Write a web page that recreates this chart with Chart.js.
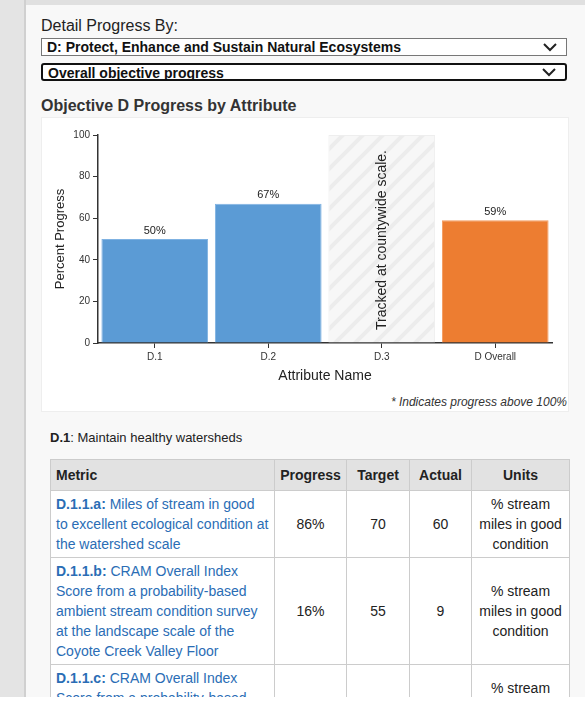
<!DOCTYPE html>
<html><head><meta charset="utf-8">
<script src="https://cdn.jsdelivr.net/npm/chart.js@4"></script>
<style>
body{margin:0;width:585px;height:726px;background:#f5f5f5;font-family:Arial,"Liberation Sans",sans-serif;position:relative;overflow:hidden;color:#222}
#strip{position:absolute;left:0;top:0;width:24px;height:700px;background:#e4e4e4;border-right:2px solid #d0d0d0}
#topbar{position:absolute;left:26px;top:0;width:559px;height:5px;background:#e0e0e0}
#main{position:absolute;left:26px;top:5px;width:559px;height:692px;background:#f8f8f8}
.sel{position:absolute;left:41px;width:526px;height:18px;border:1px solid #777;background:#fff;font-size:14px;font-weight:bold;box-sizing:border-box;padding:0 5px;line-height:16px;color:#111}
.sel svg{position:absolute;right:9px;top:4px}
#box{position:absolute;left:41px;top:117px;width:528px;height:295px;background:#fff;border:1px solid #eee;box-sizing:border-box}
table{position:absolute;left:50px;top:459px;width:519px;border-collapse:collapse;table-layout:fixed;font-size:14px;background:#fff}
td,th{border:1px solid #ccc;padding:3px 5px;line-height:20px;vertical-align:middle}
th{background:#e2e2e2;text-align:left;height:24px}
td.c{text-align:center}
a{color:#2a6db5;text-decoration:none}
</style></head><body>
<div id="strip"></div><div id="topbar"></div><div id="main"></div>
<div style="position:absolute;left:41px;top:17px;font-size:16px">Detail Progress By:</div>
<div class="sel" style="top:38px">D: Protect, Enhance and Sustain Natural Ecosystems<svg width="14" height="9"><path d="M1 1 L7 7 L13 1" stroke="#222" stroke-width="2" fill="none"/></svg></div>
<div class="sel" style="top:63px;border:2px solid #111;border-radius:3px">Overall objective progress<svg width="14" height="9" style="top:3px"><path d="M1 1 L7 7 L13 1" stroke="#222" stroke-width="2" fill="none"/></svg></div>
<div style="position:absolute;left:41px;top:97px;font-size:16px;font-weight:bold;color:#333">Objective D Progress by Attribute</div>
<div id="box"></div>
<div style="position:absolute;left:41px;top:117px;width:528px;height:272px"><canvas id="c"></canvas></div>
<div style="position:absolute;right:18px;top:395px;font-size:12px;font-style:italic;color:#333">* Indicates progress above 100%</div>
<div style="position:absolute;left:50px;top:430px;font-size:13px"><b>D.1</b>: Maintain healthy watersheds</div>
<table>
<colgroup><col style="width:224px"><col style="width:72px"><col style="width:63px"><col style="width:62px"><col style="width:98px"></colgroup>
<tr><th>Metric</th><th style="text-align:center">Progress</th><th style="text-align:center">Target</th><th style="text-align:center">Actual</th><th style="text-align:center">Units</th></tr>
<tr><td><a><b>D.1.1.a:</b> Miles of stream in good to excellent ecological condition at the watershed scale</a></td><td class="c">86%</td><td class="c">70</td><td class="c">60</td><td class="c">% stream miles in good condition</td></tr>
<tr><td><a><b>D.1.1.b:</b> CRAM Overall Index Score from a probability-based ambient stream condition survey at the landscape scale of the Coyote Creek Valley Floor</a></td><td class="c">16%</td><td class="c">55</td><td class="c">9</td><td class="c">% stream miles in good condition</td></tr>
<tr><td><a><b>D.1.1.c:</b> CRAM Overall Index Score from a probability-based ambient stream</a></td><td class="c"></td><td class="c"></td><td class="c"></td><td class="c">% stream miles in good</td></tr>
</table>
<div style="position:absolute;left:0;top:697px;width:585px;height:29px;background:#fff"></div>
<script>
const categories=["D.1","D.2","D.3","D Overall"];
const values=[50,67,100,59];
const labels=["50%","67%","Tracked at countywide scale.","59%"];
const yTicks=[0,20,40,60,80,100];

const pc=document.createElement('canvas');pc.width=20;pc.height=20;
const p=pc.getContext('2d');p.fillStyle='#f7f7f7';p.fillRect(0,0,20,20);
p.strokeStyle='#ececec';p.lineWidth=4;
p.beginPath();p.moveTo(-5,25);p.lineTo(25,-5);p.moveTo(-15,15);p.lineTo(15,-15);p.moveTo(5,35);p.lineTo(35,5);p.stroke();
const pattern=document.getElementById('c').getContext('2d').createPattern(pc,'repeat');

const labelPlugin={id:'lbl',afterDatasetsDraw(ch){
  const ctx=ch.ctx;const meta=ch.getDatasetMeta(0);
  meta.data.forEach((b,i)=>{
    ctx.save();ctx.fillStyle='#222';
    if(i===2){ctx.font='14px Arial';ctx.translate(b.x,ch.scales.y.getPixelForValue(0)-13);ctx.rotate(-Math.PI/2);ctx.textAlign='left';ctx.textBaseline='middle';ctx.fillText(labels[i],0,0);}
    else{ctx.font='11px Arial';ctx.textAlign='center';ctx.textBaseline='bottom';ctx.fillText(labels[i],b.x,b.y-3);}
    ctx.restore();
  });
}};

new Chart(document.getElementById('c'),{
 type:'bar',
 data:{labels:categories,datasets:[{data:values,
   backgroundColor:['#5b9bd5','#5b9bd5',pattern,'#ed7d31'],
   borderColor:['#7fb2e2','#7fb2e2','#eeeeee','#f39a5e'],borderWidth:1,
   barPercentage:0.94,categoryPercentage:1}]},
 options:{responsive:true,maintainAspectRatio:false,animation:false,
  layout:{padding:{top:18,right:17,left:8}},
  plugins:{legend:{display:false},tooltip:{enabled:false}},
  scales:{
   x:{grid:{drawOnChartArea:false,color:'#333',tickLength:5,offset:false},border:{color:'#333',width:1.5},
      ticks:{color:'#333',font:{size:10,family:'Arial'}},
      title:{display:true,text:'Attribute Name',color:'#222',font:{size:14,family:'Arial'},padding:{top:2}},
      afterFit(s){s.height=46;}},
   y:{min:0,max:100,afterBuildTicks(s){s.ticks=yTicks.map(v=>({value:v}));},
      grid:{drawOnChartArea:false,color:'#333',tickLength:5},border:{color:'#333',width:1.5},
      ticks:{color:'#333',font:{size:10,family:'Arial'}},
      title:{display:true,text:'Percent Progress',color:'#222',font:{size:13,family:'Arial'}},
      afterFit(s){s.width=49;}}
  }},
 plugins:[labelPlugin]
});
</script>
</body></html>
